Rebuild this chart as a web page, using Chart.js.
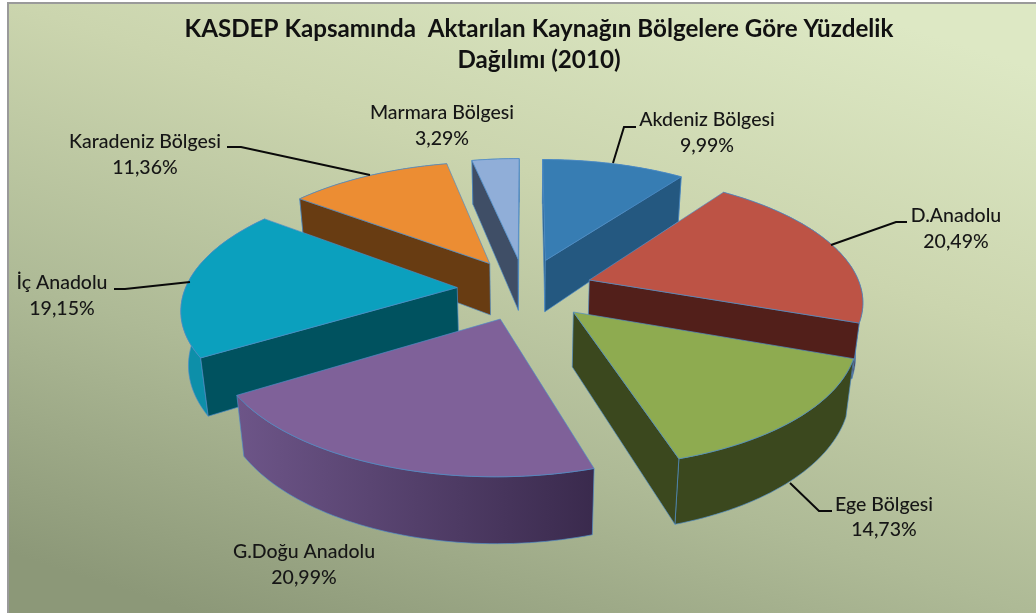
<!DOCTYPE html>
<html>
<head>
<meta charset="utf-8">
<script src="https://cdn.jsdelivr.net/npm/chart.js@4/dist/chart.umd.min.js"></script>
<style>
html,body{margin:0;padding:0;background:#fff;overflow:hidden}
canvas{display:block}
</style>
</head>
<body>
<canvas id="c" width="1036" height="613"></canvas>
<script>
// ---- data ----
const titleLines = ["KASDEP Kapsamında  Aktarılan Kaynağın Bölgelere Göre Yüzdelik", "Dağılımı (2010)"];
const categories = ["Akdeniz Bölgesi", "D.Anadolu", "Ege Bölgesi", "G.Doğu Anadolu", "İç Anadolu", "Karadeniz Bölgesi", "Marmara Bölgesi"];
const shares = [9.99, 20.49, 14.73, 20.99, 19.15, 11.36, 3.29];
const shareText = ["9,99%", "20,49%", "14,73%", "20,99%", "19,15%", "11,36%", "3,29%"];

// ---- styles ----
const topColors = ["#377db3", "#bd5345", "#8eab50", "#7f6199", "#0ba0be", "#ec8d33", "#90aed8"];
const wallColors = ["#245880", "#521f1a", "#3b481e", "#3c2c4e", "#00525f", "#683c12", "#3f4e66"];
const rimColors = ["#245880", "#521f1a", "#3b481e", ["#6d5588", "#3a2a4d"], "#0d8fa9", "#683c12", "#3f4e66"];

// label layout: text centre x, first/second line centre y, leader polyline
const labelLayout = [
  {x:707, y:[120,146], line:[[636,127],[624,127],[613,163]]},
  {x:956, y:[216,242], line:[[907,222],[896,222],[831,245]]},
  {x:884, y:[505,530], line:[[832,511],[819,511],[790,483]]},
  {x:304, y:[552,578], line:null},
  {x:62,  y:[283,309], line:[[114,289],[125,289],[190,282]]},
  {x:145, y:[142,168], line:[[227,147],[241,147],[370,175]]},
  {x:442, y:[113,139], line:null}
];

// camera for the tilted, exploded pie
const cam = {cx:525, cy:289, rx:272, ry:124, persp:0.15, floor:0.022, depth:55, depthPow:1.5, explode:0.25};
function project(a, b, z) {
  const w = 1 + cam.persp * b + cam.floor * z;
  return [cam.cx + cam.rx * a / w, cam.cy - cam.ry * b / w + cam.depth * z / Math.pow(w, cam.depthPow)];
}

function sliceGeometry(arc) {
  const s = arc.startAngle + Math.PI / 2, e = arc.endAngle + Math.PI / 2, m = (s + e) / 2;
  const ox = cam.explode * Math.sin(m), oy = cam.explode * Math.cos(m);
  const n = Math.max(8, Math.ceil((e - s) * 40));
  const rim = [];
  for (let i = 0; i <= n; i++) {
    const t = s + (e - s) * i / n;
    rim.push([ox + Math.sin(t), oy + Math.cos(t)]);
  }
  return {rim, apex:[ox, oy], depthKey:oy};
}
function poly(ctx, pts, fill, edge) {
  ctx.beginPath();
  pts.forEach((p, i) => i ? ctx.lineTo(p[0], p[1]) : ctx.moveTo(p[0], p[1]));
  ctx.closePath();
  ctx.fillStyle = fill;
  ctx.fill();
  ctx.lineWidth = 0.8;
  ctx.strokeStyle = edge;
  ctx.stroke();
}
function signedArea(pts) {
  let s = 0;
  pts.forEach((p, i) => { const q = pts[(i + 1) % pts.length]; s += p[0] * q[1] - q[0] * p[1]; });
  return s / 2;
}

const pie3d = {
  id: "pie3d",
  beforeDraw(chart) {
    const ctx = chart.ctx;
    ctx.save();
    ctx.fillStyle = "#fff";
    ctx.fillRect(0, 0, 1036, 613);
    const g = ctx.createLinearGradient(400, 680, 640, -60);
    g.addColorStop(0, "#8c9878");
    g.addColorStop(0.334, "#aeba96");
    g.addColorStop(0.673, "#cbd5ae");
    g.addColorStop(1, "#dde8c4");
    ctx.fillStyle = g;
    ctx.fillRect(7, 3, 1029, 610);
    ctx.fillStyle = "#9a9a9a";
    ctx.fillRect(7, 2, 1029, 2);
    ctx.fillRect(7, 2, 2, 611);
    ctx.restore();
  },
  beforeDatasetDraw(chart, args) {
    const ctx = chart.ctx;
    const arcs = chart.getDatasetMeta(args.index).data;
    const order = arcs.map((arc, i) => ({i, geo: sliceGeometry(arc)}))
      .sort((p, q) => q.geo.depthKey - p.geo.depthKey);
    const edge = "rgba(79,141,200,0.85)";
    ctx.save();
    ctx.lineJoin = "round";
    order.forEach(({i, geo}) => {
      const top = geo.rim.map(p => project(p[0], p[1], 0));
      const bot = geo.rim.map(p => project(p[0], p[1], 1));
      const apexT = project(geo.apex[0], geo.apex[1], 0);
      const apexB = project(geo.apex[0], geo.apex[1], 1);
      // curved outer wall
      let rimFill = rimColors[i];
      if (Array.isArray(rimFill)) {
        const xs = top.map(p => p[0]);
        const gg = ctx.createLinearGradient(Math.min(...xs), 0, Math.max(...xs), 0);
        gg.addColorStop(0, rimFill[0]);
        gg.addColorStop(1, rimFill[1]);
        rimFill = gg;
      }
      poly(ctx, top.concat(bot.slice().reverse()), rimFill, edge);
      // flat walls, only the ones facing the camera
      const startWall = [apexT, top[0], bot[0], apexB];
      const endWall = [top[top.length - 1], apexT, apexB, bot[bot.length - 1]];
      if (signedArea(startWall) < 0) poly(ctx, startWall, wallColors[i], edge);
      if (signedArea(endWall) < 0) poly(ctx, endWall, wallColors[i], edge);
      // top face
      poly(ctx, [apexT].concat(top), topColors[i], edge);
    });
    ctx.restore();
    return false;
  },
  afterDatasetsDraw(chart) {
    const ctx = chart.ctx;
    ctx.save();
    ctx.font = "500 19.5px Lato";
    ctx.fillStyle = "#161616";
    ctx.textAlign = "center";
    ctx.textBaseline = "middle";
    labelLayout.forEach((l, i) => {
      ctx.fillText(categories[i], l.x, l.y[0]);
      ctx.fillText(shareText[i], l.x, l.y[1]);
      if (l.line) {
        ctx.beginPath();
        l.line.forEach((p, k) => k ? ctx.lineTo(p[0], p[1]) : ctx.moveTo(p[0], p[1]));
        ctx.lineWidth = 2;
        ctx.strokeStyle = "#0a0a0a";
        ctx.stroke();
      }
    });
    ctx.restore();
  }
};

new Chart(document.getElementById("c"), {
  type: "pie",
  data: {labels: categories, datasets: [{data: shares, backgroundColor: topColors, borderWidth: 0}]},
  plugins: [pie3d],
  options: {
    responsive: false,
    animation: false,
    layout: {padding: {left: 42, top: 14}},
    plugins: {
      legend: {display: false},
      tooltip: {enabled: false},
      title: {display: true, text: titleLines, color: "#111",
              font: {family: "Lato", size: 24.2, weight: "bold", lineHeight: 1.28}, padding: 0}
    }
  }
});
</script>
</body>
</html>
